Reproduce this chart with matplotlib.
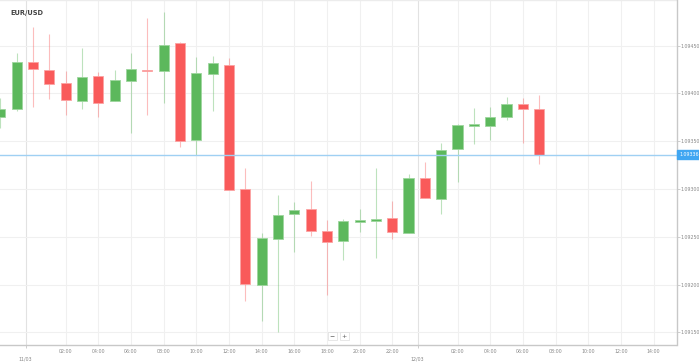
import matplotlib
matplotlib.use('Agg')
import matplotlib.pyplot as plt
import numpy as np

# hourly candles, hours counted from 11/03 00:00
hours = np.arange(-2, 32)
opens = [1.09375, 1.09384, 1.09433, 1.09425, 1.09411, 1.09392, 1.09418, 1.09392,
         1.09413, 1.09425, 1.09424, 1.09453, 1.09351, 1.09420, 1.09430, 1.09300,
         1.09200, 1.09248, 1.09274, 1.09279, 1.09256, 1.09246, 1.09265, 1.09266,
         1.09270, 1.09254, 1.09311, 1.09290, 1.09342, 1.09366, 1.09366, 1.09375,
         1.09389, 1.09384]
highs = [1.09395, 1.09442, 1.09470, 1.09462, 1.09424, 1.09448, 1.09422, 1.09425,
         1.09442, 1.09479, 1.09485, 1.09454, 1.09438, 1.09439, 1.09437, 1.09322,
         1.09254, 1.09294, 1.09286, 1.09308, 1.09268, 1.09269, 1.09279, 1.09322,
         1.09287, 1.09316, 1.09328, 1.09348, 1.09368, 1.09385, 1.09386, 1.09396,
         1.09395, 1.09398]
lows = [1.09364, 1.09382, 1.09386, 1.09394, 1.09377, 1.09384, 1.09375, 1.09392,
        1.09359, 1.09377, 1.09390, 1.09344, 1.09336, 1.09382, 1.09299, 1.09183,
        1.09162, 1.09150, 1.09234, 1.09251, 1.09189, 1.09226, 1.09255, 1.09228,
        1.09248, 1.09254, 1.09291, 1.09274, 1.09307, 1.09347, 1.09351, 1.09372,
        1.09348, 1.09326]
closes = [1.09384, 1.09433, 1.09426, 1.09410, 1.09393, 1.09417, 1.09390, 1.09414,
          1.09426, 1.09423, 1.09451, 1.09350, 1.09421, 1.09432, 1.09299, 1.09201,
          1.09249, 1.09273, 1.09278, 1.09256, 1.09245, 1.09267, 1.09268, 1.09269,
          1.09255, 1.09312, 1.09291, 1.09341, 1.09367, 1.09367, 1.09375, 1.09389,
          1.09384, 1.09336]
last_price = 1.09336

time_ticks = [2, 4, 6, 8, 10, 12, 14, 16, 18, 20, 22, 26, 28, 30, 32, 34, 36, 38]
time_labels = ['02:00', '04:00', '06:00', '08:00', '10:00', '12:00', '14:00', '16:00',
               '18:00', '20:00', '22:00', '02:00', '04:00', '06:00', '08:00', '10:00',
               '12:00', '14:00']
date_ticks = [-0.45, 23.55]
date_labels = ['11/03', '12/03']
price_ticks = [1.0915, 1.0920, 1.0925, 1.0930, 1.0935, 1.0940, 1.0945]

green = '#5cb85c'
red = '#f95a5a'
fs = 3.4

W, H = 699, 363
fig = plt.figure(figsize=(W / 100, H / 100), dpi=100)
ax = fig.add_axes([0, 18 / H, 676.5 / W, 345 / H])

o = np.array(opens)
c = np.array(closes)
up = c >= o
cols = np.where(up, green, red)
edge = np.where(up, '#9ed69e', '#fca3a3')
bot = np.minimum(o, c)
ht = np.maximum(np.abs(c - o), 0.000015)

ax.vlines(hours, lows, highs, colors=cols, linewidth=0.8, alpha=0.4, zorder=2)
ax.bar(hours, ht, bottom=bot, width=0.63, color=cols, edgecolor=edge,
       linewidth=0.6, zorder=3)

ax.axhline(last_price, color='#9fd0f3', linewidth=1.0, zorder=4)

ax.set_xlim(-2.02, 39.4)
ax.set_ylim(1.091367, 1.094978)

for t in time_ticks:
    ax.axvline(t, color='#f0f0f0', linewidth=0.8, zorder=0)
for t in date_ticks:
    ax.axvline(t, color='#e2e2e2', linewidth=0.8, zorder=0)
for p in price_ticks:
    ax.axhline(p, color='#f0f0f0', linewidth=0.8, zorder=0)
ax.axhline(1.094978, color='#ececec', linewidth=1.0, zorder=0)

ax.set_xticks(time_ticks)
ax.set_xticklabels(time_labels)
ax.tick_params(axis='x', length=0, labelsize=fs, labelcolor='#888888', pad=3)
ax.set_xticks(date_ticks, minor=True)
ax.set_xticklabels(date_labels, minor=True)
ax.tick_params(axis='x', which='minor', length=2, width=0.5, color='#bbbbbb',
               labelsize=fs, labelcolor='#888888', pad=6.5)

ax.yaxis.tick_right()
ax.set_yticks(price_ticks)
ax.set_yticklabels(['%.5f' % p for p in price_ticks])
ax.tick_params(axis='y', length=2, width=0.5, color='#bbbbbb', labelsize=fs,
               labelcolor='#888888', pad=1)

for s in ['top', 'left']:
    ax.spines[s].set_visible(False)
for s in ['bottom', 'right']:
    ax.spines[s].set_color('#c8c8c8')
    ax.spines[s].set_linewidth(1.0)

# current price tag
ax.text(1.0045, last_price, '%.5f' % last_price, transform=ax.get_yaxis_transform(),
        fontsize=fs, color='white', va='center', ha='left', zorder=6,
        bbox=dict(boxstyle='square,pad=0.45', fc='#3fa6f2', ec='#3fa6f2'))

fig.text(10 / W, 1 - 12.5 / H, 'EUR/USD', fontsize=4.8, fontweight='bold',
         color='#444444', va='center', ha='left')

# zoom buttons
for x, s in [(332, '\u2212'), (344, '+')]:
    fig.text(x / W, 1 - 336 / H, s, fontsize=4.5, color='#555555', ha='center',
             va='center', bbox=dict(boxstyle='square,pad=0.3', fc='white', ec='#dddddd',
                                    lw=0.5))

fig.savefig('out.png', dpi=100)
